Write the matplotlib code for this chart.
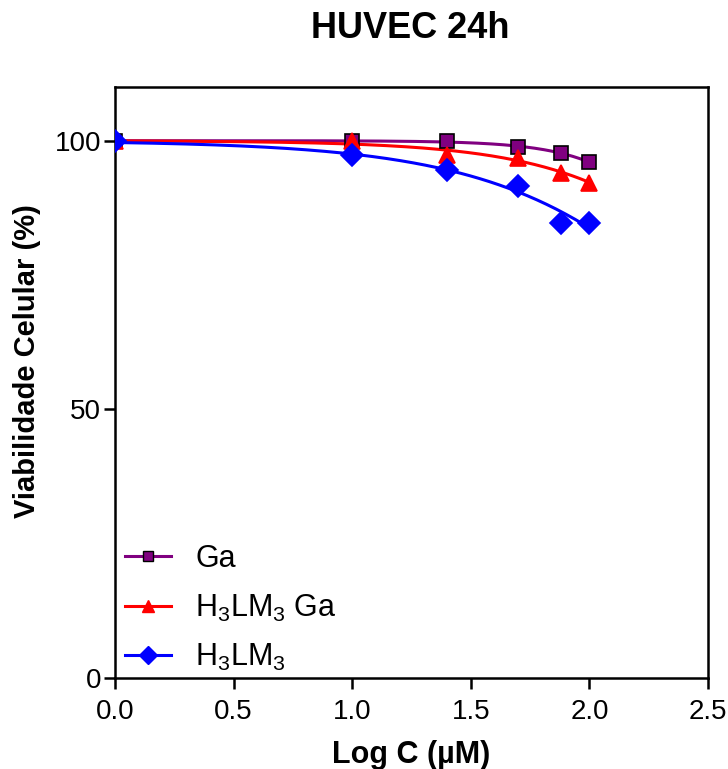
import numpy as np
import matplotlib
matplotlib.use("Agg")
import matplotlib.pyplot as plt

plt.rcParams['font.family'] = ['Liberation Sans', 'DejaVu Sans']
plt.rcParams['mathtext.fontset'] = 'custom'
plt.rcParams['mathtext.rm'] = 'Liberation Sans'
plt.rcParams['mathtext.it'] = 'Liberation Sans'

# log10 of concentration (uM)
log_c = [0.0, 1.0, 1.4, 1.7, 1.88, 2.0]

ga = [100.0, 100.0, 99.9, 98.9, 97.7, 96.0]
h3lm3_ga = [100.0, 99.9, 97.4, 96.8, 94.0, 92.2]
h3lm3 = [100.0, 97.4, 94.6, 91.5, 84.7, 84.7]

labels = ['Ga', 'H$_3$LM$_3$ Ga', 'H$_3$LM$_3$']
colors = ['#800080', '#ff0000', '#0000ff']
markers = ['s', '^', 'D']
msizes = [9.5, 11, 11]


def fit_curve(x, y):
    # dose-response, top=100 bottom=0, simple grid search
    x = np.asarray(x)
    y = np.asarray(y)
    best = None
    for c in np.linspace(1.5, 6, 451):
        for h in np.linspace(0.1, 3, 291):
            pred = 100 / (1 + 10 ** (h * (x - c)))
            err = np.sum((pred - y) ** 2)
            if best is None or err < best[0]:
                best = (err, c, h)
    return best[1], best[2]


fig = plt.figure(figsize=(7.28, 7.69), dpi=100)
ax = fig.add_axes([0.158, 0.1183, 0.8145, 0.7686])

xs = np.linspace(min(log_c), max(log_c), 200)
for y, lab, col, mk, ms in zip([ga, h3lm3_ga, h3lm3], labels, colors, markers, msizes):
    c, h = fit_curve(log_c, y)
    ax.plot(xs, 100 / (1 + 10 ** (h * (xs - c))), color=col, lw=2.2, zorder=2)
    ec = 'black' if mk == 's' else col
    ax.plot(log_c, y, linestyle='none', marker=mk, ms=ms, color=col,
            markeredgecolor=ec, markeredgewidth=1.2, zorder=3)
    ax.plot([], [], color=col, lw=2.2, marker=mk, ms=ms * 0.8,
            markeredgecolor=ec, markeredgewidth=1.0, label=lab)

ax.set_xlim(0, 2.5)
ax.set_ylim(0, 110)
ax.set_xticks([0.0, 0.5, 1.0, 1.5, 2.0, 2.5])
ax.set_xticklabels(['0.0', '0.5', '1.0', '1.5', '2.0', '2.5'])
ax.set_yticks([0, 50, 100])

for s in ax.spines.values():
    s.set_linewidth(1.8)
ax.tick_params(direction='out', length=8, width=1.8, labelsize=20)
ax.tick_params(axis='x', pad=7)
ax.tick_params(axis='y', pad=2)

ax.set_xlabel('Log C (µM)', fontsize=22, fontweight='bold', labelpad=11)
ax.set_ylabel('Viabilidade Celular (%)', fontsize=21, fontweight='bold')
ax.yaxis.set_label_coords(-0.125, 0.536)
fig.text(0.563, 0.963, 'HUVEC 24h', fontsize=26, fontweight='bold',
         ha='center', va='center')

ax.legend(loc='lower left', bbox_to_anchor=(-0.03, -0.038), frameon=False,
          fontsize=22, handlelength=1.5, handletextpad=0.8, labelspacing=0.6,
          borderpad=0.4)

fig.savefig('out.png', dpi=100)
